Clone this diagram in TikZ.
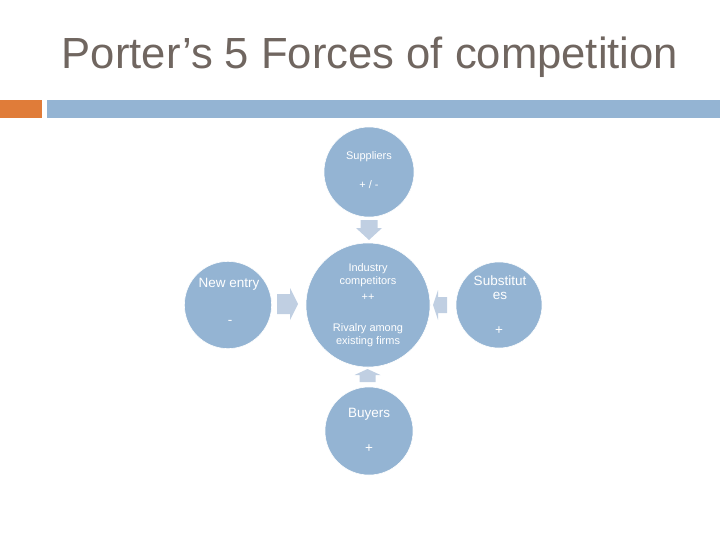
\documentclass[tikz,border=0pt]{standalone}
\usepackage{fontspec}
\setmainfont{Liberation Sans}
\definecolor{forceblue}{RGB}{148,180,211}
\definecolor{pushblue}{RGB}{192,207,226}
\definecolor{titlegray}{RGB}{112,102,96}
\definecolor{barorange}{RGB}{224,124,57}
\begin{document}
\begin{tikzpicture}[
                x=0.025cm, y=-0.025cm,
                force/.style={circle, fill=forceblue, draw=white, thin, inner sep=0pt},
                small/.style={text=white, align=center, font=\fontsize{7.8}{9}\selectfont},
                big/.style={text=white, align=center, font=\fontsize{9.6}{10}\selectfont},
                push/.style={fill=pushblue}
            ]
                \useasboundingbox (0,0) rectangle (720,540);
                % title and bars
                \node [text=titlegray, font=\fontsize{31}{34}\selectfont] (title) at (370,57) {Porter’s 5 Forces of competition};
                \fill [barorange] (0,100) rectangle (42,118);
                \fill [forceblue] (47,100) rectangle (720,118);
                % circles
                \node [force, minimum size=2.25cm] (sup) at (369,172) {};
                \node [force, minimum size=3.1cm] (ind) at (368,305) {};
                \node [force, minimum size=2.18cm] (new) at (228,305) {};
                \node [force, minimum size=2.15cm] (sub) at (499,305) {};
                \node [force, minimum size=2.2cm] (buy) at (369,431) {};
                % texts
                \node [small] (supname) at (369,157) {Suppliers};
                \node [small] (supsign) at (369,185) {+ / -};
                \node [small] (indname) at (368,275) {Industry\\competitors};
                \node [small] (indsign) at (368,297) {++};
                \node [small] (indriv) at (368,335) {Rivalry among\\existing firms};
                \node [big] (newname) at (229,284) {New entry};
                \node [big] (newsign) at (230,322) {-};
                \node [big] (subname) at (500,288) {Substitut\\es};
                \node [big] (subsign) at (499,331) {+};
                \node [big] (buyname) at (369,414) {Buyers};
                \node [big] (buysign) at (369,449) {+};
                % arrows
                \fill [push] (360.5,220) -- (377.5,220) -- (377.5,228) -- (382,228) -- (369,240) -- (356,228) -- (360.5,228) -- cycle;
                \fill [push] (277,294) -- (290,294) -- (290,288) -- (298,304) -- (290,320) -- (290,314) -- (277,314) -- cycle;
                \fill [push] (447,297) -- (438,297) -- (438,290) -- (433,305) -- (438,320) -- (438,313) -- (447,313) -- cycle;
                \fill [push] (359.5,382) -- (359.5,375) -- (354.5,375) -- (367.5,369) -- (380.5,375) -- (375.5,375) -- (375.5,382) -- cycle;
            \end{tikzpicture}
\end{document}
